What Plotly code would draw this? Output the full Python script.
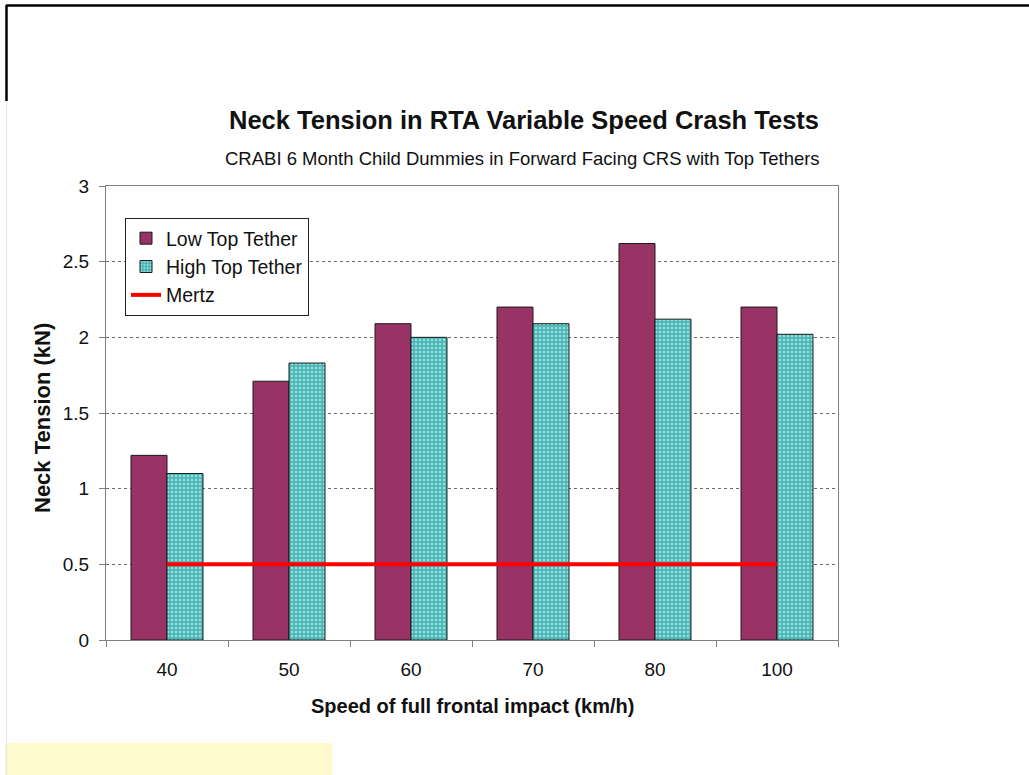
import plotly.graph_objects as go

# Crash test speeds (km/h) and measured neck tension (kN)
speeds = ["40", "50", "60", "70", "80", "100"]
low_top_tether = [1.22, 1.71, 2.09, 2.20, 2.62, 2.20]
high_top_tether = [1.10, 1.83, 2.00, 2.09, 2.12, 2.02]
mertz_limit = [0.5, 0.5, 0.5, 0.5, 0.5, 0.5]

FONT = "Liberation Sans, Arial, sans-serif"

# plot-area geometry in pixels, used to place decorations in paper units
L, R, T, B = 106, 838, 186, 640
W, H = 1029, 775


def px(x):
    return (x - L) / (R - L)


def py(y):
    return (B - y) / (B - T)


fig = go.Figure()

fig.add_trace(go.Bar(
    x=speeds, y=low_top_tether, name="Low Top Tether",
    marker=dict(color="#993366", line=dict(color="#1a1a1a", width=1)),
))
fig.add_trace(go.Bar(
    x=speeds, y=high_top_tether, name="High Top Tether",
    marker=dict(
        color="#4fbcbc",
        line=dict(color="#1a1a1a", width=1),
        pattern=dict(shape=".", fgcolor="#ffffff", bgcolor="#48b8b8",
                     size=4, solidity=0.3),
    ),
))
fig.add_trace(go.Scatter(
    x=speeds, y=mertz_limit, name="Mertz", mode="lines",
    line=dict(color="#ff0000", width=4),
))

shapes = [
    # outer frame: heavy top and upper-left edge, faint lower-left edge
    dict(type="line", xref="paper", yref="paper",
         x0=px(6), x1=px(1029), y0=py(5.5), y1=py(5.5),
         line=dict(color="#000000", width=2.5)),
    dict(type="line", xref="paper", yref="paper",
         x0=px(6.5), x1=px(6.5), y0=py(5), y1=py(101),
         line=dict(color="#000000", width=2.5)),
    dict(type="line", xref="paper", yref="paper",
         x0=px(6.5), x1=px(6.5), y0=py(101), y1=py(775),
         line=dict(color="#e4e4e4", width=1)),
    # yellow note box at the bottom-left
    dict(type="rect", xref="paper", yref="paper",
         x0=px(5), x1=px(332), y0=py(743), y1=py(776),
         fillcolor="#fffacd", line=dict(width=0), layer="below"),
]

annotations = [
    dict(text="<b>Neck Tension in RTA Variable Speed Crash Tests</b>",
         xref="paper", yref="paper", x=px(524), y=py(120),
         xanchor="center", yanchor="middle",
         showarrow=False, font=dict(family=FONT, size=25.5, color="#111111")),
    dict(text="CRABI 6 Month Child Dummies in Forward Facing CRS with Top Tethers",
         xref="paper", yref="paper", x=px(522), y=py(158),
         xanchor="center", yanchor="middle",
         showarrow=False, font=dict(family=FONT, size=18.5, color="#111111")),
    dict(text="<b>Speed of full frontal impact (km/h)</b>",
         xref="paper", yref="paper", x=px(473), y=py(706),
         xanchor="center", yanchor="middle",
         showarrow=False, font=dict(family=FONT, size=20, color="#111111")),
    dict(text="<b>Neck Tension (kN)</b>", textangle=-90,
         xref="paper", yref="paper", x=px(42), y=py(418),
         xanchor="center", yanchor="middle",
         showarrow=False, font=dict(family=FONT, size=22, color="#111111")),
]

fig.update_layout(
    width=W, height=H,
    margin=dict(l=L, r=W - R, t=T, b=H - B, pad=0),
    paper_bgcolor="#ffffff", plot_bgcolor="#ffffff",
    barmode="group", bargap=0.41, bargroupgap=0,
    font=dict(family=FONT, size=19, color="#111111"),
    showlegend=True,
    legend=dict(
        x=px(125), y=py(218), xanchor="left", yanchor="top",
        bgcolor="#ffffff", bordercolor="#222222", borderwidth=1,
        font=dict(family=FONT, size=19.5, color="#111111"),
        itemwidth=30, tracegroupgap=0,
    ),
    shapes=shapes,
    annotations=annotations,
)

fig.update_xaxes(
    type="category", tickson="boundaries",
    ticks="outside", ticklen=6, tickcolor="#808080",
    showline=True, linecolor="#808080", linewidth=1, mirror=True,
    showgrid=False, ticklabelstandoff=12,
    tickfont=dict(family=FONT, size=19, color="#111111"),
)
fig.update_yaxes(
    range=[0, 3], dtick=0.5, tickformat="~g",
    ticks="outside", ticklen=6, tickcolor="#808080",
    showline=True, linecolor="#808080", linewidth=1, mirror=True,
    showgrid=True, gridcolor="#6a6a6a", gridwidth=1, griddash="3px,3px",
    zeroline=False, ticklabelstandoff=6,
    tickfont=dict(family=FONT, size=19, color="#111111"),
)

fig.write_html("out.html")
